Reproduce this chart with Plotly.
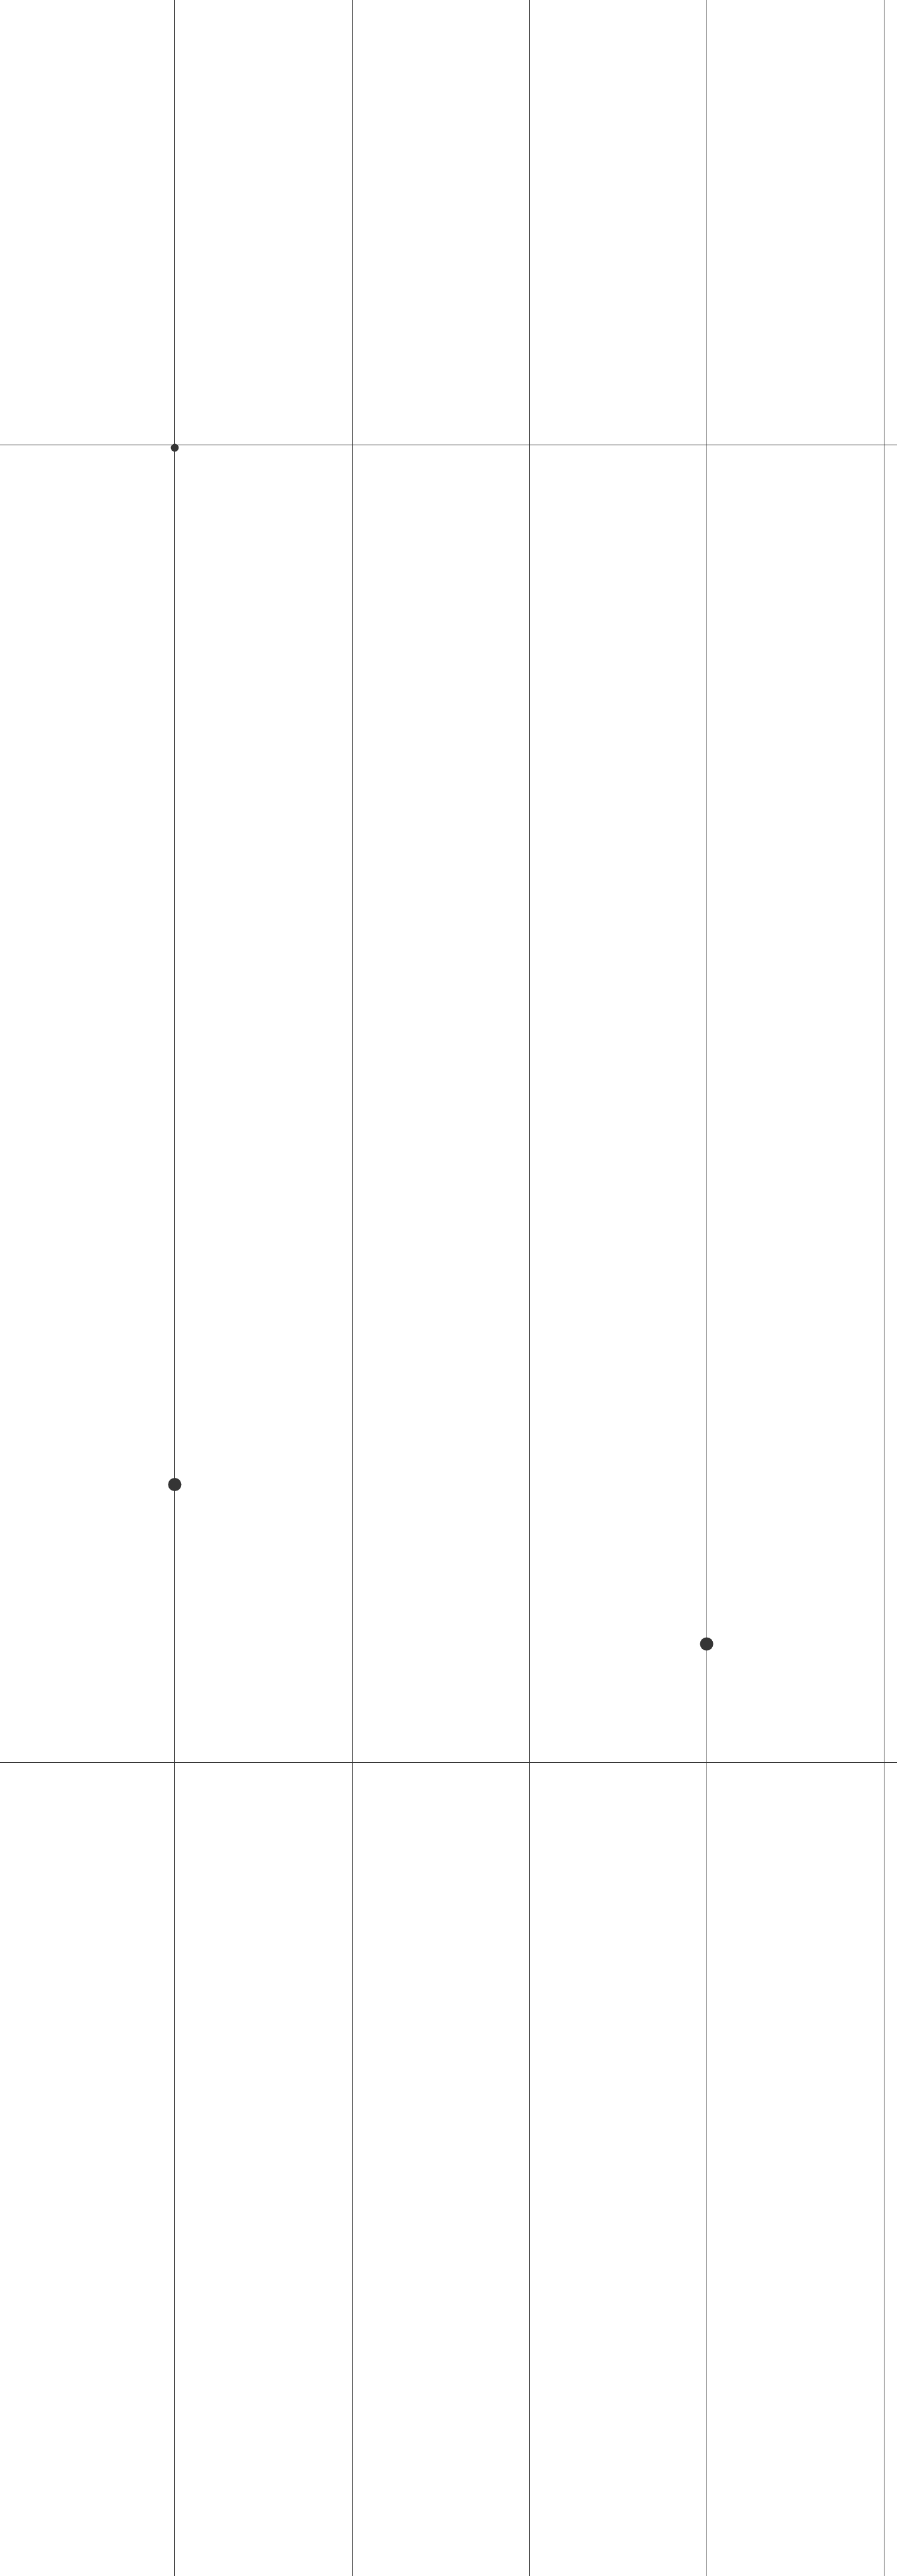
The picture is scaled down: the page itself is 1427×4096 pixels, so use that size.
import plotly.graph_objects as go

# Data
x_values = [0, 0, 3]
y_values = [0.998, 0.211, 0.090]
weights = [36, 100, 100]

x_ticks = [0, 1, 2, 3, 4]
y_ticks = [0, 1]

W, H = 1427, 4096
ink = "#353535"

fig = go.Figure(
    go.Scatter(
        x=x_values,
        y=y_values,
        mode="markers",
        marker=dict(
            size=weights,
            sizemode="area",
            sizeref=0.45,
            color=ink,
            opacity=1,
            line=dict(width=0),
        ),
        hoverinfo="skip",
    )
)

fig.update_layout(
    width=W,
    height=H,
    margin=dict(l=0, r=0, t=0, b=0),
    paper_bgcolor="#ffffff",
    plot_bgcolor="#ffffff",
    showlegend=False,
)

fig.update_xaxes(
    range=[-374 / 379.5, (1920 - 374) / 379.5],
    tickvals=x_ticks,
    showticklabels=False,
    showgrid=True,
    gridcolor=ink,
    gridwidth=1,
    zeroline=False,
    showline=False,
    ticks="",
)
fig.update_yaxes(
    range=[-(5510 - 3770) / 2818, 1 + 952 / 2818],
    tickvals=y_ticks,
    showticklabels=False,
    showgrid=True,
    gridcolor=ink,
    gridwidth=1,
    zeroline=False,
    showline=False,
    ticks="",
)

fig.write_html("out.html", config={"displayModeBar": False})
